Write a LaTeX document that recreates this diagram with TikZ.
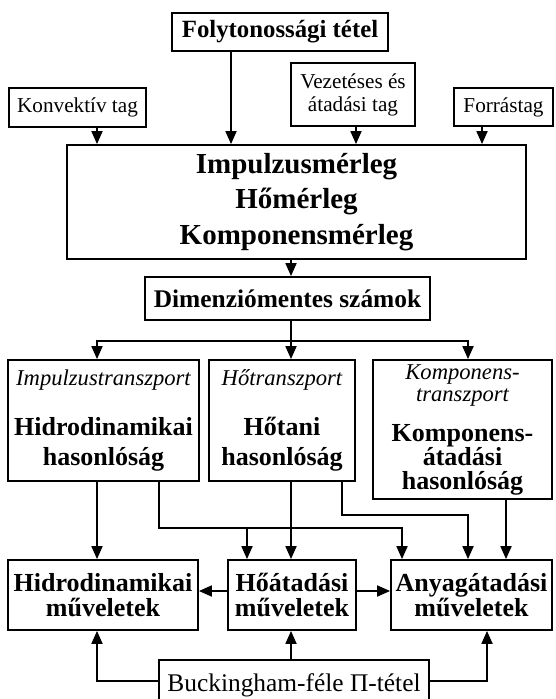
\documentclass[tikz,border=0pt]{standalone}
\usepackage{fontspec}
\setmainfont{Liberation Serif}
\usetikzlibrary{arrows.meta}
\newcommand\transzp{\mdseries\itshape\fontsize{11.3}{12}\selectfont}
\begin{document}
\begin{tikzpicture}[x=0.5pt, y=-0.5pt, line width=0.9pt,
                  >={Triangle[length=6.5pt,width=5.5pt]},
                  box/.style={draw, inner sep=0pt, align=center},
                  cim/.style={box, font=\fontsize{10.6}{11.5}\selectfont},
                  fo/.style={box, font=\bfseries\fontsize{13}{15}\selectfont}]
\fill[white] (0,0) rectangle (555,699);
\useasboundingbox (0,0) rectangle (555,699);
% felso sor
\node[box, minimum width=108pt, minimum height=19pt,
      font=\bfseries\fontsize{12.4}{14}\selectfont] (folyt) at (280,32) {Folytonossági tétel};
\node[cim, minimum width=68.5pt, minimum height=19.5pt] (konv) at (77.5,107.5) {Konvektív tag};
\node[cim, minimum width=62pt, minimum height=31.5pt] (vezet) at (353,94.5) {Vezetéses és\\átadási tag};
\node[cim, minimum width=49.5pt, minimum height=19pt] (forras) at (503.5,107) {Forrástag};
\node[box, minimum width=229.5pt, minimum height=57pt,
      font=\bfseries\fontsize{14.5}{17.75}\selectfont] (merleg) at (296.5,202)
      {Impulzusmérleg\\Hőmérleg\\Komponensmérleg};
\node[box, minimum width=142.5pt, minimum height=21.5pt,
      font=\bfseries\fontsize{12.7}{14}\selectfont] (dimenz) at (287.5,298.5) {Dimenziómentes számok};
% hasonlosagok
\node[fo, minimum width=95.5pt, minimum height=60.5pt] (impt) at (103.5,420.5)
      {{\transzp Impulzustranszport}\\[10pt]Hidrodinamikai\\hasonlóság};
\node[fo, minimum width=73pt, minimum height=60.5pt] (hot) at (282,420.5)
      {{\transzp Hőtranszport}\\[10pt]Hőtani\\hasonlóság};
\node[fo, minimum width=89.5pt, minimum height=69.5pt] (kompt) at (462.5,429.5)
      {{\transzp Komponens-}\\[-4pt]{\transzp transzport}\\[5pt]Komponens-\\[-3pt]átadási\\[-3pt]hasonlóság};
% muveletek
\node[fo, minimum width=95pt, minimum height=35pt] (hidro) at (103,595) {Hidrodinamikai\\[-2.5pt]műveletek};
\node[fo, minimum width=64pt, minimum height=35pt] (hoat) at (292,595) {Hőátadási\\[-2.5pt]műveletek};
\node[fo, minimum width=80.5pt, minimum height=35pt] (anyag) at (471.5,595) {Anyagátadási\\[-2.5pt]műveletek};
\node[box, minimum width=135pt, minimum height=25pt,
      font=\fontsize{12.7}{14}\selectfont] (buck) at (294,685) {Buckingham-féle Π-tétel};
% nyilak
\foreach \n/\x in {konv/97, folyt/231, vezet/356, forras/482}
  {\coordinate (k) at (\x,0);
   \draw[->] (\n.south -| k) -- (merleg.north -| k);}
\coordinate (fan) at (291,341);
\draw[->] (merleg.south -| fan) -- (dimenz.north -| fan);
\draw (dimenz.south -| fan) -- (fan);
\foreach \n/\x in {impt/97, hot/291, kompt/468}
  {\coordinate (k) at (\x,0);
   \draw[->] (fan) -| (\n.north -| k);}
\coordinate (a) at (97,0);
\coordinate (i1) at (159,528);
\coordinate (i2) at (402,528);
\coordinate (i3) at (247,528);
\coordinate (h0) at (291,0);
\coordinate (h1) at (342,515);
\coordinate (h2) at (468,515);
\coordinate (k1) at (506,0);
\draw[->] (impt.south -| a) -- (hidro.north -| a);
\draw[->] (impt.south -| i1) -- (i1) -| (anyag.north -| i2);
\draw[->] (i3) -- (hoat.north -| i3);
\draw[->] (hot.south -| h0) -- (hoat.north -| h0);
\draw[->] (hot.south -| h1) -- (h1) -| (anyag.north -| h2);
\draw[->] (kompt.south -| k1) -- (anyag.north -| k1);
\coordinate (r) at (0,591);
\draw[->] (hoat.west |- r) -- (hidro.east |- r);
\draw[->] (hoat.east |- r) -- (anyag.west |- r);
\coordinate (b) at (0,681);
\coordinate (b2) at (487,0);
\draw[->] (buck.west |- b) -| (hidro.south -| a);
\draw[->] (buck.north -| h0) -- (hoat.south -| h0);
\draw[->] (buck.east |- b) -| (anyag.south -| b2);
\end{tikzpicture}
\end{document}
